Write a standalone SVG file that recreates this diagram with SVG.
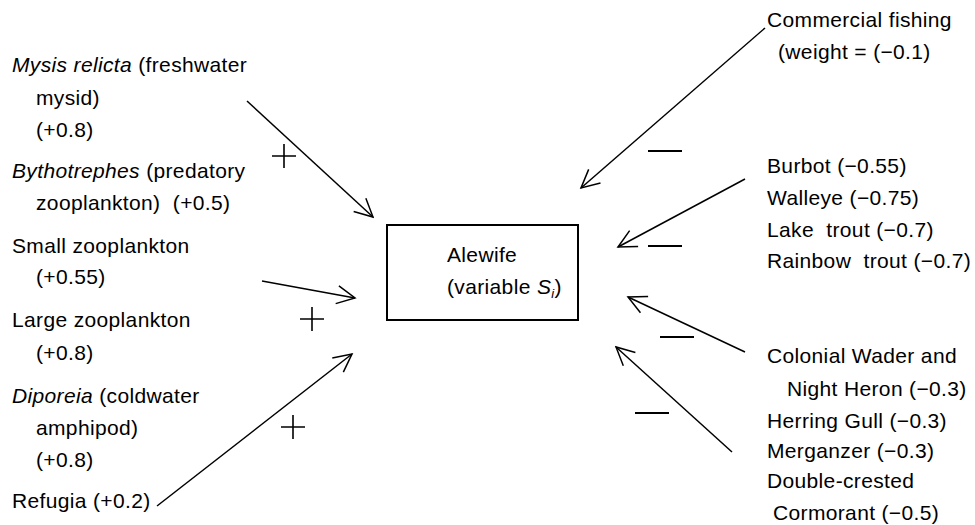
<svg xmlns="http://www.w3.org/2000/svg" width="975" height="525" viewBox="0 0 975 525">
<style>
text{font-family:"Liberation Sans",Arial,sans-serif;font-size:21px;letter-spacing:0.35px;fill:#000;white-space:pre}
.it{font-style:italic}
.ln{stroke:#000;stroke-width:1.5;fill:none}
.sg{stroke:#000;stroke-width:1.6;fill:none}
.dash{stroke:#000;stroke-width:2.2;fill:none}
</style>
<defs>
<marker id="ah" viewBox="-20 -11 22 22" refX="0" refY="0" markerWidth="22" markerHeight="22" markerUnits="userSpaceOnUse" orient="auto">
<path d="M-18,-9 L0,0 L-18,9" fill="none" stroke="#000" stroke-width="1.5"/>
</marker>
</defs>
<rect width="975" height="525" fill="#fff"/>
<g id="alewife">
<rect x="387" y="225" width="191" height="95" fill="none" stroke="#000" stroke-width="2"/>
<text x="447" y="262">Alewife</text>
<text x="447" y="294">(variable <tspan class="it">S</tspan><tspan class="it" font-size="13" dy="4">i</tspan><tspan dy="-4">)</tspan></text>
</g>
<g id="mysis">
<text x="12" y="72"><tspan class="it">Mysis relicta</tspan> (freshwater</text>
<text x="36" y="105">mysid)</text>
<text x="36" y="137">(+0.8)</text>
</g>
<g id="bythotrephes">
<text x="12" y="178"><tspan class="it">Bythotrephes</tspan> (predatory</text>
<text x="36" y="210">zooplankton)  (+0.5)</text>
</g>
<g id="small-zoo">
<text x="12" y="253">Small zooplankton</text>
<text x="36" y="284">(+0.55)</text>
</g>
<g id="large-zoo">
<text x="12" y="327">Large zooplankton</text>
<text x="36" y="360">(+0.8)</text>
</g>
<g id="diporeia">
<text x="12" y="403"><tspan class="it">Diporeia</tspan> (coldwater</text>
<text x="36" y="435">amphipod)</text>
<text x="36" y="467">(+0.8)</text>
</g>
<g id="refugia">
<text x="12" y="508">Refugia (+0.2)</text>
</g>
<g id="commercial">
<text x="767" y="27">Commercial fishing</text>
<text x="778" y="59">(weight = (−0.1)</text>
</g>
<g id="fish">
<text x="767" y="173">Burbot (−0.55)</text>
<text x="767" y="205">Walleye (−0.75)</text>
<text x="767" y="237">Lake  trout (−0.7)</text>
<text x="767" y="268">Rainbow  trout (−0.7)</text>
</g>
<g id="birds">
<text x="767" y="363">Colonial Wader and</text>
<text x="787" y="396">Night Heron (−0.3)</text>
<text x="767" y="428">Herring Gull (−0.3)</text>
<text x="767" y="458">Merganzer (−0.3)</text>
<text x="767" y="488">Double-crested</text>
<text x="773" y="520">Cormorant (−0.5)</text>
</g>
<g id="connectors">
<line class="ln" x1="247" y1="101" x2="373" y2="217" marker-end="url(#ah)"/>
<line class="ln" x1="262" y1="281" x2="355" y2="298" marker-end="url(#ah)"/>
<line class="ln" x1="157" y1="506" x2="352" y2="354" marker-end="url(#ah)"/>
<line class="ln" x1="765" y1="28" x2="581" y2="188" marker-end="url(#ah)"/>
<line class="ln" x1="745" y1="179" x2="618" y2="247" marker-end="url(#ah)"/>
<line class="ln" x1="745" y1="352" x2="628" y2="297" marker-end="url(#ah)"/>
<line class="ln" x1="732" y1="452" x2="616" y2="347" marker-end="url(#ah)"/>
<path class="sg" d="M272,156 H296 M284,144 V168"/>
<path class="sg" d="M300,319 H324 M312,307 V331"/>
<path class="sg" d="M281,427 H305 M293,415 V439"/>
<path class="dash" d="M648,151 H682 M648,246 H682 M660,337 H694 M635,413 H669"/>
</g>
</svg>
